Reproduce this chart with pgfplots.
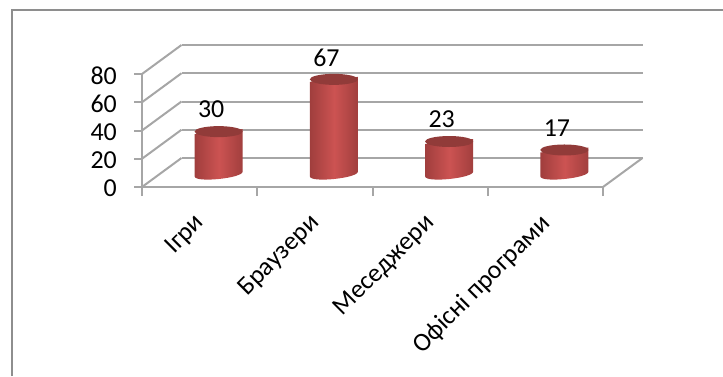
\documentclass[border=0pt]{standalone}
\usepackage{pgfplots}
\usepackage{fontspec}
\pgfplotsset{compat=1.18}
\setmainfont{Carlito}
\definecolor{gridgray}{HTML}{A6A6A6}
\definecolor{framegray}{HTML}{8E8E8E}
\definecolor{cylside}{HTML}{A03E3D}
\definecolor{cylmid}{HTML}{CC5352}
\definecolor{cyllid}{HTML}{913B39}
% cylinder body hanging below its data point; height follows the point's value
\pgfdeclareplotmark{cylbody}{%
  \pgfmathsetmacro{\h}{\val*1.4125}%
  \shade[draw=none,left color=cylside,right color=cylside,middle color=cylmid]
    (-24bp,-2.5bp) -- (24bp,2.5bp) -- (24bp,-\h bp+2.5bp)
    .. controls (24.7bp,-\h bp-4.1bp) and (-23.3bp,-\h bp-9.1bp) ..
    (-24bp,-\h bp-2.5bp) -- cycle;
}
% tilted lid centred on the data point
\pgfdeclareplotmark{cyllid}{%
  \fill[draw=none,cyllid,rotate=6] (0bp,0bp) ellipse [x radius=24.1bp,y radius=5.5bp];
}
\pgfplotstableread{
x v
0 30
1 67
2 23
3 17
}\usage
% shared plot box: 4 categories across, 0-80 upward
\pgfplotsset{chartbox/.style={
  scale only axis, width=461bp, height=113bp, anchor=south west,
  xmin=-0.5, xmax=3.5, ymin=0, ymax=80, clip=false}}
\begin{document}
\begin{tikzpicture}[x=1bp,y=1bp]
\path[use as bounding box] (0,0) rectangle (723,376);
% chart frame
\draw[framegray,line width=2bp] (12,0) -- (12,366) -- (723,366);

% back wall gridlines
\begin{axis}[chartbox, at={(181.5bp,218bp)},
  axis line style={draw=none}, ymajorgrids, xtick=\empty, ytick={0,20,...,80},
  yticklabels={}, major tick length=0pt,
  grid style={gridgray,line width=2bp}]
\end{axis}

% side wall and floor edges
\foreach \v in {0,20,40,60,80}
  \draw[gridgray,line width=2bp] (142,189+\v*1.4125) -- (181.5,218+\v*1.4125);
\draw[gridgray,line width=2bp] (603,189) -- (642.5,218);

% front axes with ticks and labels
\begin{axis}[chartbox, at={(142bp,189bp)},
  axis x line=bottom, axis y line=left,
  axis line style={-,gridgray,line width=2bp},
  xtick={0,1,2,3}, xticklabels={Ігри,Браузери,Меседжери,Офісні програми},
  minor xtick={-0.5,0.5,1.5,2.5,3.5},
  ytick={0,20,40,60,80},
  tick align=outside,
  major x tick style={draw=none},
  minor tick length=9bp,
  major tick length=8bp,
  every tick/.style={gridgray,line width=2bp},
  minor x tick style={gridgray,line width=2bp},
  /pgf/number format/assume math mode=true,
  tick label style={font=\fontsize{26}{28}\selectfont,black},
  xticklabel style={rotate=45,anchor=north east,inner sep=0pt,xshift=-16.6bp,yshift=-7.4bp},
  yticklabel style={anchor=east,inner sep=0pt,xshift=-17bp,yshift=-1.5bp}]
\end{axis}

% cylinders standing mid-depth on the floor
\begin{axis}[chartbox, at={(161bp,202bp)},
  hide axis,
  /pgf/number format/assume math mode=true]
\addplot[scatter, only marks, mark=cylbody, point meta=y,
  visualization depends on={rawy \as \val}]
  table[x=x,y=v] {\usage};
\addplot[only marks, mark=cyllid,
  nodes near coords, point meta=y,
  every node near coord/.style={font=\fontsize{26}{28}\selectfont,black,
    anchor=center,inner sep=0pt,xshift=-7.5bp,yshift=22bp}]
  table[x=x,y=v] {\usage};
\end{axis}
\end{tikzpicture}
\end{document}
